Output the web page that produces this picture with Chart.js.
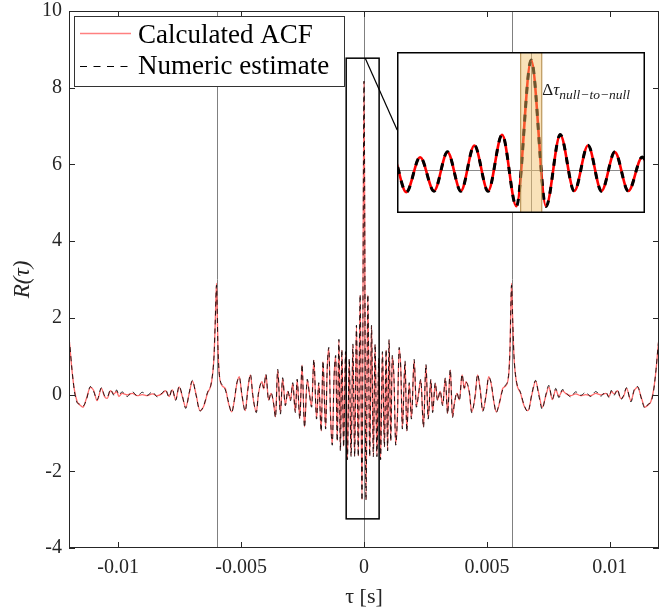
<!DOCTYPE html>
<html><head><meta charset="utf-8">
<script src="https://cdn.jsdelivr.net/npm/chart.js@4.4.0/dist/chart.umd.min.js"></script>
<style>
html,body{margin:0;padding:0;background:#fff;}
#wrap{position:relative;width:659px;height:614px;overflow:hidden;}
#main{position:absolute;left:0;top:0;}
#inset{position:absolute;left:398px;top:52px;background:#fff;}
</style></head><body>
<div id="wrap"><canvas id="main" width="659" height="614"></canvas><canvas id="inset" width="248" height="162"></canvas></div>
<script>
// ---- data (tau in seconds) ----
const tau = [
-0.01200,-0.01197,-0.01188,-0.01178,-0.01167,-0.01156,-0.01143,-0.01129,-0.01113,-0.01099,
-0.01086,-0.01068,-0.01056,-0.01045,-0.01031,-0.01017,-0.01006,-0.00997,-0.00984,-0.00963,
-0.00943,-0.00922,-0.00902,-0.00882,-0.00861,-0.00841,-0.00820,-0.00807,-0.00793,-0.00780,
-0.00766,-0.00752,-0.00739,-0.00725,-0.00711,-0.00698,-0.00684,-0.00667,-0.00650,-0.00637,
-0.00620,-0.00610,-0.00605,-0.00600,-0.00594,-0.00588,-0.00574,-0.00564,-0.00551,-0.00538,
-0.00528,-0.00517,-0.00507,-0.00497,-0.00483,-0.00473,-0.00462,-0.00452,-0.00438,-0.00429,
-0.00415,-0.00408,-0.00399,-0.00388,-0.00378,-0.00367,-0.00360,-0.00351,-0.00340,-0.00331,
-0.00320,-0.00310,-0.00299,-0.00290,-0.00279,-0.00272,-0.00261,-0.00252,-0.00242,-0.00231,
-0.00222,-0.00213,-0.00204,-0.00193,-0.00184,-0.00174,-0.00167,-0.00156,-0.00150,-0.00143,
-0.00136,-0.00129,-0.00122,-0.00115,-0.00109,-0.00102,-0.00096,-0.00090,-0.00083,-0.00075,
-0.000675,-0.00060,-0.000525,-0.000452,-0.00038,-0.000307,-0.000233,-0.000157,-0.00008,0,
0.00008,0.000157,0.000233,0.000307,0.00038,0.000452,0.000525,0.00060,0.000675,0.00075,
0.00083,0.00090,0.00096,0.00102,0.00109,0.00115,0.00122,0.00129,0.00136,0.00143,
0.00150,0.00156,0.00167,0.00174,0.00184,0.00193,0.00204,0.00213,0.00222,0.00231,
0.00242,0.00252,0.00261,0.00272,0.00279,0.00290,0.00299,0.00310,0.00320,0.00331,
0.00340,0.00351,0.00360,0.00367,0.00378,0.00388,0.00399,0.00408,0.00415,0.00429,
0.00438,0.00452,0.00462,0.00473,0.00483,0.00497,0.00507,0.00517,0.00528,0.00538,
0.00551,0.00564,0.00574,0.00588,0.00594,0.00600,0.00605,0.00610,0.00620,0.00637,
0.00650,0.00667,0.00684,0.00698,0.00711,0.00725,0.00739,0.00752,0.00766,0.00780,
0.00793,0.00807,0.00820,0.00841,0.00861,0.00882,0.00902,0.00922,0.00943,0.00963,
0.00984,0.00997,0.01006,0.01017,0.01031,0.01045,0.01056,0.01068,0.01086,0.01099,
0.01113,0.01129,0.01143,0.01156,0.01167,0.01178,0.01188,0.01197,0.01200
];
const acfCalculated = [
1.47,1.29,0.64,0.12,-0.18,-0.27,-0.33,-0.10,0.19,0.10,
-0.16,0.16,-0.05,-0.10,0.10,0.02,0.08,-0.05,0.03,-0.01,
0.03,-0.03,0.00,-0.03,0.02,-0.03,0.03,0.10,-0.05,0.12,
-0.13,0.20,-0.05,-0.33,0.03,0.35,0.03,-0.42,-0.27,0.03,
0.33,1.00,1.90,2.90,1.25,0.47,0.21,0.16,-0.23,-0.45,
-0.18,0.29,0.47,-0.01,-0.42,0.12,0.51,-0.05,-0.45,0.03,
0.34,0.15,0.51,-0.14,0.03,-0.25,-0.58,0.64,-0.49,0.42,
-0.27,0.08,-0.14,0.29,-0.45,0.38,-0.62,0.77,-0.84,0.38,
0.03,-0.31,0.90,-0.62,0.29,-0.95,0.86,-0.88,0.60,1.21,
-0.55,-1.30,0.40,1.00,-1.20,1.42,-1.45,1.16,-1.35,1.10,
-1.68,0.92,-1.60,1.30,-1.60,1.79,-1.60,2.59,-2.74,8.17,
-2.74,2.59,-1.60,1.79,-1.60,1.30,-1.60,0.92,-1.68,1.10,
-1.35,1.16,-1.45,1.42,-1.20,1.00,0.40,-1.30,-0.55,1.21,
0.60,-0.88,0.86,-0.95,0.29,-0.62,0.90,-0.31,0.03,0.38,
-0.84,0.77,-0.62,0.38,-0.45,0.29,-0.14,0.08,-0.27,0.42,
-0.49,0.64,-0.58,-0.25,0.03,-0.14,0.51,0.15,0.34,0.03,
-0.45,-0.05,0.51,0.12,-0.42,-0.01,0.47,0.29,-0.18,-0.45,
-0.23,0.16,0.21,0.47,1.25,2.90,1.90,1.00,0.33,0.03,
-0.27,-0.42,0.03,0.35,0.03,-0.33,-0.05,0.20,-0.13,0.12,
-0.05,0.10,0.03,-0.03,0.02,-0.03,0.00,-0.03,0.03,-0.01,
0.03,-0.05,0.08,0.02,0.10,-0.10,-0.05,0.16,-0.16,0.10,
0.19,-0.10,-0.33,-0.27,-0.18,0.12,0.64,1.29,1.47
];
const acfNumeric = [
1.47,1.31,0.66,0.09,-0.21,-0.25,-0.30,-0.13,0.21,0.07,
-0.14,0.18,-0.02,-0.07,0.13,-0.02,0.12,-0.01,0.07,-0.05,
0.08,-0.04,0.06,-0.02,0.07,-0.06,0.05,0.13,-0.07,0.15,
-0.15,0.22,-0.03,-0.36,0.05,0.37,0.01,-0.43,-0.25,0.05,
0.35,1.02,1.92,2.85,1.20,0.50,0.23,0.12,-0.20,-0.47,
-0.16,0.31,0.45,0.02,-0.44,0.10,0.53,-0.03,-0.47,0.05,
0.32,0.17,0.53,-0.16,0.05,-0.27,-0.60,0.66,-0.51,0.44,
-0.29,0.10,-0.16,0.31,-0.47,0.40,-0.64,0.79,-0.86,0.40,
0.01,-0.33,0.92,-0.64,0.31,-0.97,0.88,-0.90,0.62,1.23,
-0.57,-1.32,0.42,1.02,-1.22,1.44,-1.47,1.18,-1.37,1.12,
-1.70,0.94,-1.62,1.32,-1.62,1.81,-1.62,2.61,-2.76,8.17,
-2.76,2.61,-1.62,1.81,-1.62,1.32,-1.62,0.94,-1.70,1.12,
-1.37,1.18,-1.47,1.44,-1.22,1.02,0.42,-1.32,-0.57,1.23,
0.62,-0.90,0.88,-0.97,0.31,-0.64,0.92,-0.33,0.01,0.40,
-0.86,0.79,-0.64,0.40,-0.47,0.31,-0.16,0.10,-0.29,0.44,
-0.51,0.66,-0.60,-0.27,0.05,-0.16,0.53,0.17,0.32,0.05,
-0.47,-0.03,0.53,0.10,-0.44,0.02,0.45,0.31,-0.16,-0.47,
-0.20,0.12,0.23,0.50,1.20,2.85,1.92,1.02,0.35,0.05,
-0.25,-0.45,0.06,0.37,-0.02,-0.38,-0.02,0.24,-0.12,0.16,
-0.08,0.13,0.06,-0.06,0.07,-0.02,0.06,-0.05,0.08,-0.04,
0.07,-0.08,0.11,-0.02,0.13,-0.13,-0.02,0.18,-0.19,0.13,
0.21,-0.12,-0.36,-0.25,-0.20,0.10,0.66,1.31,1.47
];
const seriesNames = ['Calculated ACF', 'Numeric estimate'];
const xTickValues = [-0.01, -0.005, 0, 0.005, 0.01];
const xTickLabels = ['-0.01', '-0.005', '0', '0.005', '0.01'];
const yTickValues = [-4, -2, 0, 2, 4, 6, 8, 10];
const markerLines = [-0.006, 0, 0.006];
const zoomWindow = {x0: -0.000725, x1: 0.000615, y0: -3.24, y1: 8.77};
const nullBand = [-0.000057, 0.000057];
const insetPlace = {x0: 0.00135, x1: 0.01143, y0: 4.73, y1: 8.93};
const connector = [[0.00005, 8.77], [0.00135, 6.9]];
const bandLabelAt = [0.000060, 5.56];

const SERIF = '"Liberation Serif", "DejaVu Serif", serif';
const AX = '#262626';
const pts = vals => tau.map((t, i) => ({x: t, y: vals[i]}));

const framePlugin = {
  id: 'frame',
  beforeDatasetsDraw(chart) {
    const {ctx, chartArea: a, scales: {x}} = chart;
    ctx.save();
    ctx.strokeStyle = '#808080'; ctx.lineWidth = 1;
    markerLines.forEach(v => {
      const px = Math.round(x.getPixelForValue(v)) + 0.5;
      ctx.beginPath(); ctx.moveTo(px, a.top); ctx.lineTo(px, a.bottom); ctx.stroke();
    });
    ctx.restore();
  },
  afterDatasetsDraw(chart) {
    const {ctx, chartArea: a, scales: {x, y}} = chart;
    ctx.save();
    const rx0 = x.getPixelForValue(zoomWindow.x0), rx1 = x.getPixelForValue(zoomWindow.x1);
    const ry0 = y.getPixelForValue(zoomWindow.y1), ry1 = y.getPixelForValue(zoomWindow.y0);
    ctx.strokeStyle = '#000'; ctx.lineWidth = 1.5;
    ctx.strokeRect(rx0, ry0, rx1 - rx0, ry1 - ry0);
    ctx.lineWidth = 1.2;
    ctx.beginPath();
    ctx.moveTo(x.getPixelForValue(connector[0][0]), y.getPixelForValue(connector[0][1]));
    ctx.lineTo(x.getPixelForValue(connector[1][0]), y.getPixelForValue(connector[1][1]));
    ctx.stroke();
    ctx.strokeStyle = AX; ctx.lineWidth = 1;
    ctx.strokeRect(a.left + 0.5, a.top + 0.5, a.width - 1, a.height - 1);
    const tl = 6;
    ctx.beginPath();
    xTickValues.forEach(v => {
      const px = Math.round(x.getPixelForValue(v)) + 0.5;
      ctx.moveTo(px, a.bottom); ctx.lineTo(px, a.bottom - tl);
      ctx.moveTo(px, a.top); ctx.lineTo(px, a.top + tl);
    });
    yTickValues.forEach(v => {
      const py = Math.round(y.getPixelForValue(v)) + 0.5;
      ctx.moveTo(a.left, py); ctx.lineTo(a.left + tl, py);
      ctx.moveTo(a.right, py); ctx.lineTo(a.right - tl, py);
    });
    ctx.stroke();
    // legend
    const lx = a.left + 5, ly = a.top + 5, lw = 270, lh = 70;
    ctx.fillStyle = '#fff'; ctx.fillRect(lx, ly, lw, lh);
    ctx.strokeStyle = '#333'; ctx.lineWidth = 1; ctx.strokeRect(lx + 0.5, ly + 0.5, lw, lh);
    ctx.font = '27px ' + SERIF; ctx.fillStyle = '#000'; ctx.textBaseline = 'alphabetic'; ctx.textAlign = 'left';
    chart.data.datasets.forEach((ds, i) => {
      const yy = ly + 17.5 + i * 33;
      ctx.strokeStyle = i === 0 ? '#ff8080' : '#000';
      ctx.lineWidth = i === 0 ? 1.5 : 1;
      ctx.setLineDash(i === 0 ? [] : [7, 6.5]);
      ctx.beginPath(); ctx.moveTo(lx + 6, yy); ctx.lineTo(lx + 57, yy); ctx.stroke();
      ctx.setLineDash([]);
      ctx.fillText(ds.label, lx + 64, yy + (i === 0 ? 9 : 7));
    });
    ctx.restore();
  }
};

const mainChart = new Chart(document.getElementById('main'), {
  type: 'line',
  data: {datasets: [
    {label: seriesNames[0], order: 2, data: pts(acfCalculated), borderColor: '#ff6b6b', borderWidth: 1.3, pointRadius: 0, cubicInterpolationMode: 'monotone', fill: false},
    {label: seriesNames[1], order: 1, data: pts(acfNumeric), borderColor: 'rgba(0,0,0,0.85)', borderWidth: 1, borderDash: [5, 4], pointRadius: 0, cubicInterpolationMode: 'monotone', fill: false}
  ]},
  options: {
    responsive: false, animation: false, devicePixelRatio: 1,
    layout: {padding: {top: 11, right: 0, left: 0, bottom: 0}},
    plugins: {legend: {display: false}, tooltip: {enabled: false}},
    scales: {
      x: {
        type: 'linear', min: -0.012, max: 0.012,
        afterBuildTicks: s => { s.ticks = xTickValues.map(v => ({value: v})); },
        afterFit: s => { s.height = 66; s.paddingLeft = 0; s.paddingRight = 0; },
        ticks: {callback: (v, i) => xTickLabels[i], autoSkip: false, maxRotation: 0, padding: 8,
                font: {family: SERIF, size: 20}, color: AX},
        grid: {display: false, drawTicks: false}, border: {display: false},
        title: {display: true, text: 'τ [s]', font: {family: SERIF, size: 22}, color: AX, padding: {top: 0, bottom: 4}}
      },
      y: {
        type: 'linear', min: -4, max: 10,
        afterBuildTicks: s => { s.ticks = yTickValues.map(v => ({value: v})); },
        afterFit: s => { s.width = 69; s.paddingTop = 0; s.paddingBottom = 0; },
        ticks: {padding: 7, font: {family: SERIF, size: 20, lineHeight: 1}, color: AX},
        grid: {display: false, drawTicks: false}, border: {display: false},
        title: {display: true, text: 'R(τ)', font: {family: SERIF, size: 23, style: 'italic'}, color: AX, padding: {top: 9, bottom: 0}}
      }
    }
  },
  plugins: [framePlugin]
});

const mx = mainChart.scales.x, my = mainChart.scales.y;
const iL = Math.round(mx.getPixelForValue(insetPlace.x0));
const iR = Math.round(mx.getPixelForValue(insetPlace.x1));
const iT = Math.round(my.getPixelForValue(insetPlace.y1));
const iB = Math.round(my.getPixelForValue(insetPlace.y0));
const insetCanvas = document.getElementById('inset');
insetCanvas.style.left = iL + 'px'; insetCanvas.style.top = iT + 'px';
insetCanvas.width = iR - iL; insetCanvas.height = iB - iT;

const insetPlugin = {
  id: 'insetDeco',
  beforeDatasetsDraw(chart) {
    const {ctx, chartArea: a, scales: {x, y}} = chart;
    ctx.save();
    ctx.strokeStyle = '#8c8c8c'; ctx.lineWidth = 1;
    const py = Math.round(y.getPixelForValue(0)) + 0.5;
    const px = Math.round(x.getPixelForValue(0)) + 0.5;
    ctx.beginPath(); ctx.moveTo(a.left, py); ctx.lineTo(a.right, py);
    ctx.moveTo(px, a.top); ctx.lineTo(px, a.bottom); ctx.stroke();
    ctx.restore();
  },
  afterDatasetsDraw(chart) {
    const {ctx, chartArea: a, scales: {x, y}} = chart;
    ctx.save();
    const b0 = x.getPixelForValue(nullBand[0]), b1 = x.getPixelForValue(nullBand[1]);
    ctx.fillStyle = 'rgba(242,190,100,0.45)';
    ctx.fillRect(b0, a.top, b1 - b0, a.bottom - a.top);
    ctx.strokeStyle = 'rgba(175,135,70,0.85)'; ctx.lineWidth = 1.2;
    ctx.strokeRect(b0, a.top, b1 - b0, a.bottom - a.top);
    const tx = x.getPixelForValue(bandLabelAt[0]), ty = y.getPixelForValue(bandLabelAt[1]);
    ctx.fillStyle = '#1a1a1a'; ctx.textBaseline = 'alphabetic'; ctx.textAlign = 'left';
    ctx.font = '17px ' + SERIF; ctx.fillText('Δ', tx, ty);
    let w = ctx.measureText('Δ').width;
    ctx.font = 'italic 17px ' + SERIF; ctx.fillText('τ', tx + w, ty);
    w += ctx.measureText('τ').width;
    ctx.font = 'italic 13.5px ' + SERIF; ctx.fillText('null−to−null', tx + w, ty + 4);
    ctx.strokeStyle = '#000'; ctx.lineWidth = 1.5;
    ctx.strokeRect(0.75, 0.75, chart.width - 1.5, chart.height - 1.5);
    ctx.restore();
  }
};

new Chart(insetCanvas, {
  type: 'line',
  data: {datasets: [
    {label: seriesNames[0], order: 2, data: pts(acfCalculated), borderColor: '#ff0000', borderWidth: 2.6, pointRadius: 0, cubicInterpolationMode: 'monotone', fill: false},
    {label: seriesNames[1], order: 1, data: pts(acfNumeric), borderColor: '#000', borderWidth: 3, borderDash: [7, 7], pointRadius: 0, cubicInterpolationMode: 'monotone', fill: false}
  ]},
  options: {
    responsive: false, animation: false, devicePixelRatio: 1,
    layout: {padding: 0},
    plugins: {legend: {display: false}, tooltip: {enabled: false}},
    scales: {
      x: {type: 'linear', display: false, min: zoomWindow.x0, max: zoomWindow.x1},
      y: {type: 'linear', display: false, min: zoomWindow.y0, max: zoomWindow.y1}
    }
  },
  plugins: [insetPlugin]
});
</script>
</body></html>
